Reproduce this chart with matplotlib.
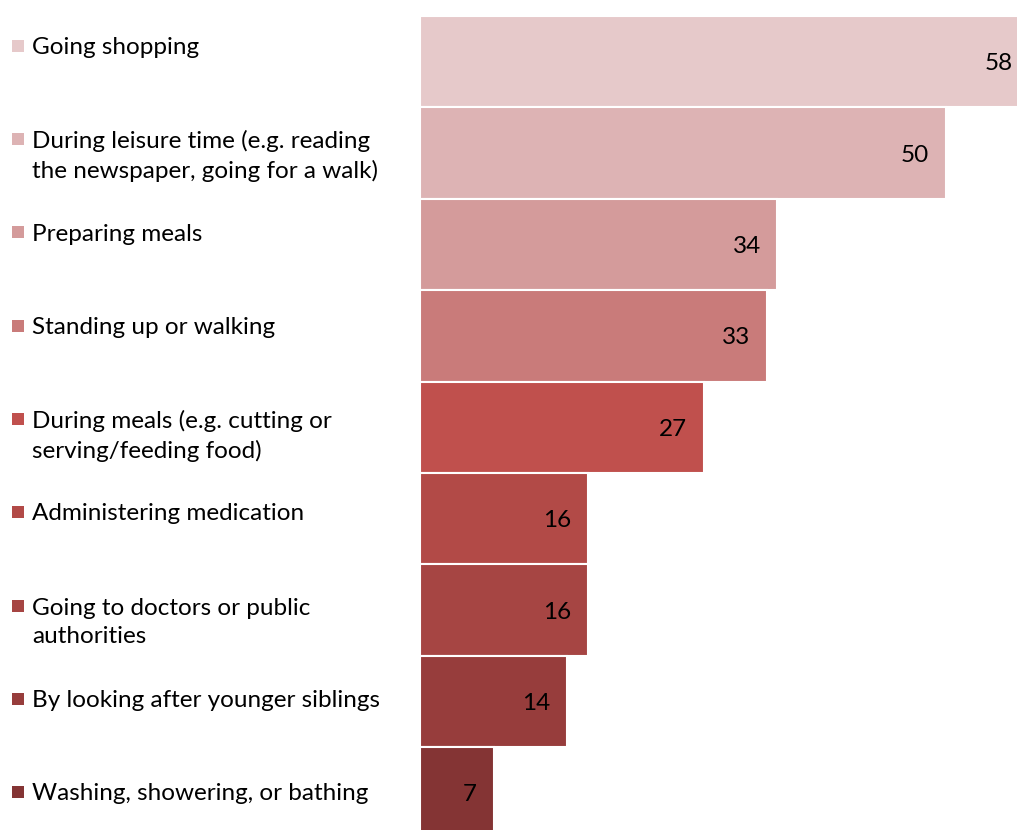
import matplotlib.pyplot as plt
from matplotlib.patches import Rectangle

plt.rcParams['font.family'] = ['Lato', 'DejaVu Sans']

# Share of young carers helping with each activity (%)
activities = [
    "Going shopping",
    "During leisure time (e.g. reading\nthe newspaper, going for a walk)",
    "Preparing meals",
    "Standing up or walking",
    "During meals (e.g. cutting or\nserving/feeding food)",
    "Administering medication",
    "Going to doctors or public\nauthorities",
    "By looking after younger siblings",
    "Washing, showering, or bathing",
]
shares = [58, 50, 34, 33, 27, 16, 16, 14, 7]
colors = ["#E6C9CA", "#DDB3B4", "#D49B9B", "#C97B7A", "#C0504D",
          "#B24A47", "#A64543", "#973D3C", "#843434"]

W, H = 1017, 830
fig = plt.figure(figsize=(W / 100, H / 100), dpi=100)
ax = fig.add_axes([420 / W, 0, 1 - 420 / W, 1 - 16 / H])

ypos = list(range(len(shares)))
ax.barh(ypos, shares, height=1.0, color=colors, edgecolor="white", linewidth=1.5)
ax.set_xlim(0, 56.8)
ax.set_ylim(8.406, -0.5)
ax.axis("off")

# value labels, right-aligned just inside the bar end
for y, v in zip(ypos, shares):
    ax.annotate(str(v), xy=(v, y), xytext=(-12, -1.5), textcoords="offset points",
                ha="right", va="center", fontsize=17.5, color="black",
                annotation_clip=False)

# legend-style category list on the left
first_line = 46
step = 93.25
line_h = 31
for i, (label, c) in enumerate(zip(activities, colors)):
    n = label.count("\n") + 1
    yc = first_line + step * i
    y_text = yc + 1.5 + (n - 1) * line_h / 2
    fig.text(32 / W, 1 - y_text / H, label, ha="left", va="center",
             fontsize=17.5, linespacing=1.45, color="black")
    fig.patches.append(Rectangle((12 / W, 1 - (yc + 6) / H), 12 / W, 12 / H,
                                 transform=fig.transFigure, facecolor=c,
                                 edgecolor="none"))

fig.savefig("out.png", dpi=100)
